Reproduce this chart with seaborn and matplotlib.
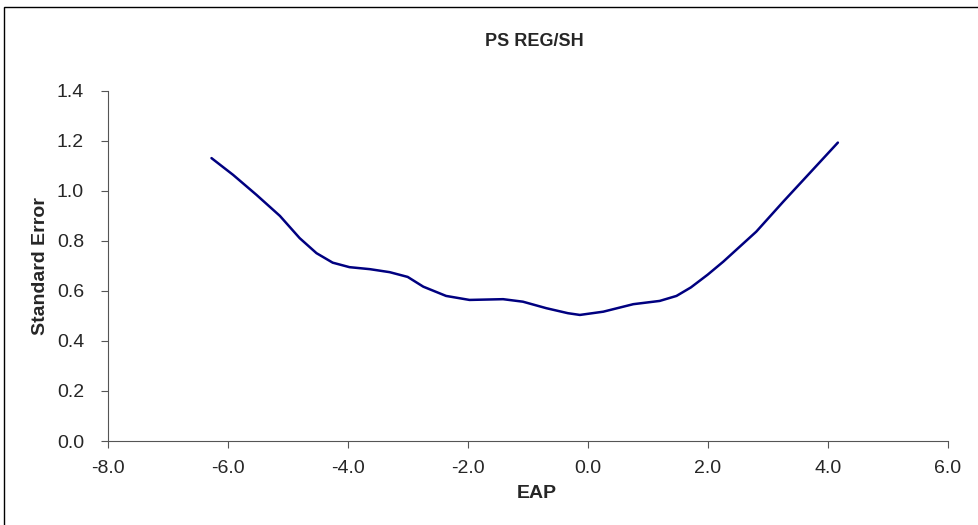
import matplotlib
matplotlib.use("Agg")
import matplotlib.pyplot as plt
import seaborn as sns
import pandas as pd
from matplotlib.patches import Rectangle

eap = [-6.27, -5.91, -5.52, -5.13, -4.80, -4.52, -4.25, -3.97, -3.63, -3.30, -3.00,
       -2.74, -2.36, -1.97, -1.41, -1.08, -0.69, -0.33, -0.13, 0.26, 0.76, 1.20,
       1.48, 1.72, 2.00, 2.26, 2.81, 3.26, 3.70, 4.17]
se = [1.131, 1.064, 0.984, 0.900, 0.811, 0.751, 0.713, 0.695, 0.687, 0.675, 0.656,
      0.617, 0.580, 0.564, 0.567, 0.557, 0.531, 0.511, 0.504, 0.517, 0.547, 0.560,
      0.580, 0.614, 0.665, 0.717, 0.837, 0.957, 1.071, 1.193]
x_ticks = [-8.0, -6.0, -4.0, -2.0, 0.0, 2.0, 4.0, 6.0]
y_ticks = [0.0, 0.2, 0.4, 0.6, 0.8, 1.0, 1.2, 1.4]

sns.set_style("white")
plt.rcParams['font.family'] = ['Liberation Sans', 'DejaVu Sans']

df = pd.DataFrame({"EAP": eap, "SE": se})
fig = plt.figure(figsize=(9.79, 5.25), dpi=100)
ax = fig.add_axes([0.110, 0.16, 0.858, 0.667])
sns.lineplot(data=df, x="EAP", y="SE", ax=ax, color="#000080", linewidth=1.8, sort=False)

ax.set_xlim(-8, 6)
ax.set_ylim(0, 1.4)
ax.set_xticks(x_ticks)
ax.set_yticks(y_ticks)
ax.set_xticklabels([f"{v:.1f}" for v in x_ticks], fontsize=14)
ax.set_yticklabels([f"{v:.1f}" for v in y_ticks], fontsize=14)
for s in ["top", "right"]:
    ax.spines[s].set_visible(False)
for s in ["left", "bottom"]:
    ax.spines[s].set_color("#555555")
    ax.spines[s].set_linewidth(0.8)
ax.tick_params(axis="both", direction="out", length=5, width=0.8, color="#555555",
               bottom=True, left=True)
ax.tick_params(axis="x", pad=9)
ax.tick_params(axis="y", pad=12)

ax.set_xlabel("EAP", fontsize=14, fontweight="bold")
ax.xaxis.set_label_coords(0.511, -0.126)
ax.set_ylabel("Standard Error", fontsize=14, fontweight="bold")
ax.yaxis.set_label_coords(-0.070, 0.5)
fig.text(0.546, 0.92, "PS REG/SH", ha="center", va="center", fontsize=13, fontweight="bold")

fig.patches.append(Rectangle((0.004, -0.01), 1.0, 0.997, transform=fig.transFigure,
                             fill=False, edgecolor="black", linewidth=1))
fig.savefig("out.png", dpi=100)
